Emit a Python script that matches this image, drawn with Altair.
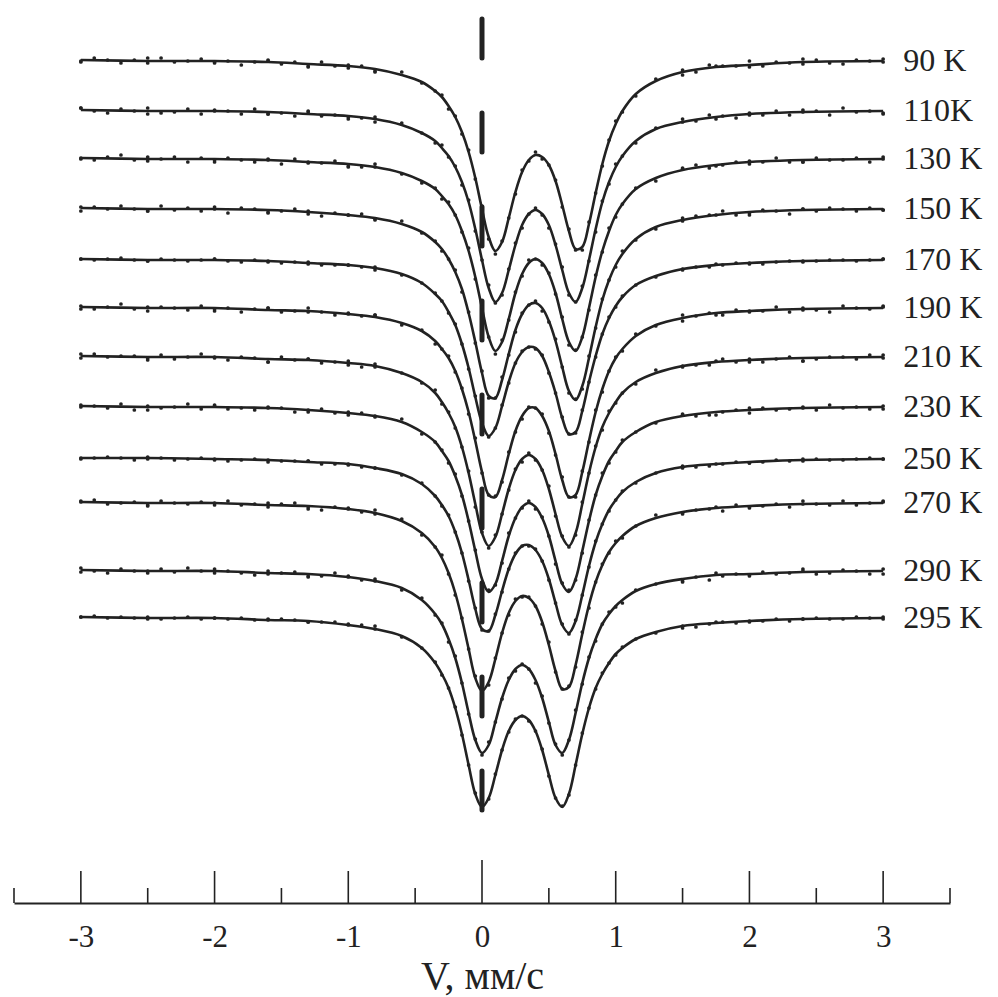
import altair as alt
import pandas as pd

# Doppler velocity grid, mm/s
velocity = [-3.0, -2.5, -2.0, -1.6, -1.3, -1.0, -0.8, -0.6, -0.45,
            -0.35, -0.3, -0.25, -0.2, -0.15, -0.1, -0.05, 0.0, 0.05, 0.1, 0.15,
            0.2, 0.25, 0.3, 0.35, 0.4, 0.45, 0.5, 0.55, 0.6, 0.65, 0.7, 0.75,
            0.8, 0.85, 0.9, 0.95, 1.0, 1.05,
            1.15, 1.3, 1.5, 1.75, 2.0, 2.4, 3.0]

temperatures = ["90 K", "110K", "130 K", "150 K", "170 K", "190 K",
                "210 K", "230 K", "250 K", "270 K", "290 K", "295 K"]

# vertical offset of each spectrum (arbitrary units, downward)
offsets = [46, 96, 144, 194, 245, 293, 342, 392, 444, 488, 556, 603]

# fitted absorption (arbitrary units) read along the velocity grid
fit_90 = [1, 2, 2, 3, 5, 7, 10, 16, 23, 32, 38, 47, 58, 73, 93, 119, 150, 178, 192, 183, 159, 133, 113, 101, 96, 98, 106, 122, 146, 172, 190, 188, 165, 134, 105, 82, 65, 52, 35, 22, 13, 8, 6, 3, 2]
fit_110 = [1, 2, 2, 3, 5, 7, 10, 16, 24, 32, 39, 47, 58, 73, 93, 120, 151, 179, 193, 184, 161, 136, 116, 105, 101, 105, 116, 136, 161, 184, 193, 179, 151, 120, 93, 73, 58, 47, 32, 20, 13, 8, 5, 3, 2]
fit_130 = [1, 2, 2, 3, 5, 7, 10, 16, 24, 32, 39, 47, 58, 74, 94, 120, 151, 180, 194, 185, 162, 136, 117, 106, 102, 106, 117, 136, 162, 185, 194, 180, 151, 120, 94, 74, 58, 47, 32, 21, 13, 8, 5, 3, 2]
fit_150 = [1, 2, 2, 3, 5, 8, 11, 17, 25, 35, 42, 52, 65, 82, 106, 135, 166, 189, 191, 173, 147, 123, 107, 98, 96, 101, 114, 134, 160, 184, 193, 179, 151, 120, 93, 73, 58, 47, 32, 20, 13, 8, 5, 3, 2]
fit_170 = [1, 2, 2, 3, 5, 7, 10, 16, 25, 36, 43, 54, 67, 86, 110, 139, 165, 178, 170, 148, 124, 105, 94, 89, 90, 98, 114, 135, 160, 176, 174, 153, 124, 98, 76, 60, 48, 39, 27, 18, 11, 7, 5, 3, 2]
fit_190 = [1, 2, 2, 4, 5, 8, 11, 17, 25, 35, 43, 52, 65, 83, 106, 135, 166, 189, 191, 174, 148, 125, 110, 102, 102, 110, 125, 148, 174, 191, 189, 166, 135, 106, 83, 65, 52, 43, 30, 19, 12, 7, 5, 3, 2]
fit_210 = [1, 2, 2, 4, 5, 8, 11, 18, 27, 38, 47, 58, 72, 92, 118, 149, 178, 191, 182, 159, 134, 115, 104, 100, 104, 115, 134, 159, 182, 191, 178, 149, 118, 92, 72, 58, 47, 38, 27, 18, 11, 7, 5, 3, 2]
fit_230 = [1, 2, 2, 3, 5, 8, 11, 17, 27, 37, 46, 56, 71, 90, 116, 146, 174, 187, 179, 156, 131, 113, 102, 98, 102, 113, 131, 156, 179, 187, 174, 146, 116, 90, 71, 56, 46, 37, 27, 17, 11, 7, 5, 3, 2]
fit_250 = [1, 1, 2, 3, 5, 7, 11, 17, 27, 39, 48, 59, 75, 96, 123, 152, 172, 174, 158, 134, 112, 97, 89, 88, 93, 104, 122, 146, 168, 176, 164, 138, 109, 85, 67, 53, 43, 35, 25, 16, 10, 7, 5, 3, 2]
fit_270 = [1, 2, 2, 4, 5, 8, 12, 20, 32, 46, 57, 72, 92, 118, 148, 177, 190, 181, 158, 132, 112, 100, 95, 97, 105, 121, 144, 170, 188, 186, 164, 133, 104, 81, 64, 51, 42, 35, 25, 17, 11, 7, 5, 3, 2]
fit_290 = [1, 2, 2, 4, 5, 8, 12, 19, 31, 45, 55, 70, 89, 114, 144, 171, 184, 176, 153, 129, 111, 100, 96, 100, 111, 129, 153, 176, 184, 171, 144, 114, 89, 70, 55, 45, 37, 31, 22, 15, 10, 6, 5, 3, 2]
fit_295 = [1, 2, 2, 4, 5, 9, 13, 20, 32, 47, 58, 72, 92, 118, 149, 178, 191, 182, 159, 134, 115, 104, 100, 104, 115, 134, 159, 182, 191, 178, 149, 118, 92, 72, 58, 47, 38, 32, 23, 16, 10, 7, 5, 3, 2]

# scatter of the measured points about the fit, on the same grid
res_90 = [2, -3, 1, -2, 3, -1, 2, -3, 1, 0, -2, 3, -1, 2, -2, 1, -3, 2, 3, -1, 0, 2, -2, 1, -3, 2, 0, -1, 2, -2, 1, 3, -2, 0, 2, -1, -3, 1, 2, -2, 3, -1, 2, -3, 1]
res_110 = [-2, 3, -1, 2, -3, 1, 3, -2, 0, 2, -3, 1, -1, 3, -2, 2, 0, -3, 1, 2, -1, -2, 3, 0, -2, 1, 3, -1, -3, 2, 0, -2, 1, 3, -1, 2, -3, 0, 2, -1, -3, 2, 1, -2, 3]
res_130 = [1, -2, 3, -1, 0, 2, -3, 1, 2, -1, 3, -2, 0, 1, -3, 2, -1, 0, 3, -2, 1, -1, 2, -3, 0, 2, -1, 1, -2, 3, -1, 0, 2, -2, 1, -3, 2, 0, -1, 3, -2, 1, -1, 2, 0]
res_150 = [-1, 2, -2, 3, -1, 0, 2, -3, 1, -1, 2, 0, -2, 3, -1, 1, -2, 2, 0, -3, 1, 2, -1, 0, -2, 3, 1, -2, 0, 2, -1, 3, -2, 1, -1, 0, 2, -3, 1, 2, -2, 0, 3, -1, 1]
res_170 = [0, 1, -1, 0, 1, 0, -1, 1, 0, -1, 0, 1, -1, 0, 1, -1, 0, 1, 0, -1, 1, 0, -1, 0, 1, -1, 1, 0, -1, 0, 1, -1, 0, 1, 0, -1, 1, -1, 0, 1, 0, -1, 1, 0, -1]
res_190 = [2, -1, 3, -2, 1, 0, -2, 2, -1, 3, 0, -2, 1, -1, 2, -3, 1, 0, -1, 2, -2, 1, 3, -1, 0, -2, 2, 1, -3, 0, 2, -1, 1, -2, 3, 0, -1, 2, -2, 1, -3, 2, 0, 1, -2]
res_210 = [-2, 1, 0, 3, -1, 2, -2, 0, 1, -3, 2, -1, 1, 0, -2, 3, -1, 2, -2, 0, 1, -1, 3, -2, 1, 0, -3, 2, -1, 1, 2, -2, 0, -1, 3, -2, 1, 0, 2, -3, 1, -1, 2, 3, -2]
res_230 = [1, 3, -2, 0, 2, -1, 1, -3, 2, 0, -1, 2, -2, 1, 0, -1, 3, -2, 1, 2, -3, 0, 1, -2, 2, -1, 0, 3, -1, -2, 1, 2, -1, 0, -3, 2, 1, -2, 0, 1, -1, 3, -2, 0, 2]
res_250 = [0, -1, 1, 0, -1, 1, 0, 1, -1, 0, 1, -1, 0, 0, 1, -1, 1, 0, -1, 1, 0, -1, 0, 1, -1, 0, 1, 0, -1, 1, -1, 0, 1, -1, 0, 1, 0, -1, 1, 0, -1, 0, 1, -1, 0]
res_270 = [-1, 2, 0, -2, 3, -1, 1, -2, 2, 0, -3, 1, 2, -1, 0, -2, 1, 3, -1, 0, 2, -2, 1, -1, 0, 2, -3, 1, 0, -1, 2, -2, 3, 0, -1, 1, -2, 2, 0, -3, 1, -1, 2, 0, -2]
res_290 = [2, 0, -2, 1, 3, -1, 0, 2, -2, 1, -1, 3, -2, 0, 1, -1, 2, -3, 0, 1, -2, 2, -1, 0, 3, -2, 1, -1, 2, 0, -3, 1, -1, 2, 0, -2, 1, 3, -1, 0, 2, -2, 1, -1, 3]
res_295 = [0, 1, 0, -1, 1, -1, 0, 1, 0, -1, 1, 0, -1, 1, 0, -1, 0, 1, -1, 0, 1, -1, 0, 1, 0, -1, 1, 0, -1, 1, 0, -1, 0, 1, -1, 0, 1, -1, 0, 1, 0, -1, 1, 0, -1]

# extra measured points in the flat wings
wing_v = [-3.0, -2.9, -2.8, -2.7, -2.6, -2.5, -2.4, -2.3, -2.2, -2.1, -2.0,
          -1.9, -1.8, -1.7, -1.6, -1.5, -1.4, -1.3, -1.2, -1.1, -1.0, -0.9, -0.8,
          1.5, 1.6, 1.7, 1.8, 1.9, 2.0, 2.1, 2.2, 2.3, 2.4, 2.5, 2.6, 2.7, 2.8, 2.9, 3.0]
wing_profile = [1, 1, 1, 1, 2, 2, 2, 2, 2, 2, 2, 3, 3, 3, 4, 4, 4, 5, 6, 7, 8, 9, 11,
                12, 10, 8, 7, 6, 5, 5, 4, 4, 3, 3, 3, 2, 2, 2, 2]
wres_90 = [1, -2, 0, 3, -1, 2, -3, 1, 0, -2, 2, -1, 3, 0, -2, 1, -1, 2, -3, 0, 1, -2, 2, -1, 3, -2, 0, 1, -3, 2, -1, 0, 2, -2, 1, 3, -1, 0, -2]
wres_110 = [-2, 1, 3, -1, 0, -3, 2, 1, -2, 3, 0, -1, 2, -3, 1, 0, 3, -2, 1, -1, 2, 0, -3, 1, 2, -2, 0, 3, -1, 1, -2, 2, 0, -1, 3, -3, 1, 0, 2]
wres_130 = [0, 2, -1, -3, 1, 2, 0, -2, 3, -1, 1, -2, 0, 2, -1, 3, -2, 1, 0, -3, 2, 1, -1, 0, -2, 3, 1, -1, 2, 0, -3, 1, 2, -2, 0, 1, -1, 3, -2]
wres_150 = [3, -1, 1, -2, 0, 2, -3, 1, -1, 2, 0, 3, -2, -1, 1, 0, -2, 2, 3, -1, 0, -2, 1, 2, -1, 0, -3, 2, 1, -2, 0, 3, -1, 1, -2, 0, 2, -1, 1]
wres_170 = [0, 1, 0, -1, 0, 1, -1, 0, 1, 0, -1, 0, 1, -1, 0, 1, 0, -1, 1, 0, -1, 0, 1, 0, -1, 1, 0, -1, 0, 1, 0, -1, 1, 0, -1, 0, 1, 0, -1]
wres_190 = [-1, 2, 0, -3, 1, 3, -1, 0, 2, -2, 1, -1, 3, 0, -2, 2, 1, -3, 0, 2, -1, 1, -2, 3, 0, -1, 2, -2, 1, 0, -3, 2, -1, 1, 3, -2, 0, 1, -1]
wres_210 = [2, -2, 1, 0, -1, 3, -2, 2, 0, -3, 1, 2, -1, 0, 3, -2, 1, -1, 2, 0, -2, 3, 1, -1, 0, 2, -3, 1, -1, 2, 0, -2, 3, 1, -1, 0, 2, -2, 1]
wres_230 = [-1, 0, 2, -2, 3, -1, 1, 0, -3, 2, -1, 1, 0, 2, -2, -1, 3, 0, -2, 1, 2, -1, 0, -3, 1, 2, 0, -1, 3, -2, 1, 0, -1, 2, -3, 1, 0, 2, -1]
wres_250 = [1, 0, -1, 0, 1, 0, -1, 1, 0, -1, 0, 1, 0, -1, 1, 0, 0, -1, 1, 0, -1, 1, 0, -1, 0, 1, 0, -1, 1, 0, -1, 0, 1, -1, 0, 1, 0, -1, 0]
wres_270 = [0, -2, 2, 1, -1, 3, -2, 0, 1, -1, 2, -3, 1, 0, 2, -1, -2, 1, 3, -1, 0, 2, -2, 1, -1, 0, 3, -2, 1, 0, -1, 2, -3, 0, 1, -2, 2, 0, -1]
wres_290 = [-2, 1, 3, -1, 0, 2, -2, 1, -3, 0, 2, -1, 1, 3, -2, 0, -1, 2, 1, -3, 0, 2, -1, 1, -2, 3, 0, -1, 2, -2, 1, 0, -3, 2, 1, -1, 0, 3, -2]
wres_295 = [0, -1, 1, 0, 0, -1, 1, 0, -1, 1, 0, 0, -1, 1, 0, -1, 0, 1, 0, -1, 1, 0, -1, 0, 1, 0, -1, 1, 0, 0, -1, 1, 0, -1, 0, 1, -1, 0, 1]

fits = [fit_90, fit_110, fit_130, fit_150, fit_170, fit_190,
        fit_210, fit_230, fit_250, fit_270, fit_290, fit_295]
residuals = [res_90, res_110, res_130, res_150, res_170, res_190,
             res_210, res_230, res_250, res_270, res_290, res_295]
wing_residuals = [wres_90, wres_110, wres_130, wres_150, wres_170, wres_190,
                  wres_210, wres_230, wres_250, wres_270, wres_290, wres_295]

# axis ticks (mm/s)
tick_labels = [-3, -2, -1, 0, 1, 2, 3]
major_ticks = [-3, -2, -1, 1, 2, 3]
minor_ticks = [-3.5, -2.5, -1.5, -0.5, 0.5, 1.5, 2.5, 3.5]
zero_tick = [0]

# ---------------------------------------------------------------- tables
fit_rows, dot_rows = [], []
for t, off, fit, res, wres in zip(temperatures, offsets, fits, residuals, wing_residuals):
    assert len(fit) == len(velocity) and len(res) == len(velocity), t
    assert len(wres) == len(wing_v), t
    for v, f, r in zip(velocity, fit, res):
        fit_rows.append({"T": t, "v": v, "y": off + f})
        dot_rows.append({"T": t, "v": v, "y": off + f + r})
    for v, p, r in zip(wing_v, wing_profile, wres):
        dot_rows.append({"T": t, "v": v, "y": off + p + r})
fit_df = pd.DataFrame(fit_rows)
dot_df = pd.DataFrame(dot_rows)

labels_df = pd.DataFrame({
    "T": temperatures,
    "v": [3.15] * len(temperatures),
    "y": [off + fit[-1] for off, fit in zip(offsets, fits)],
})

AXIS_Y = 890
tick_rows = ([{"v": v, "y0": AXIS_Y, "y1": AXIS_Y - 32} for v in major_ticks]
             + [{"v": v, "y0": AXIS_Y, "y1": AXIS_Y - 15} for v in minor_ticks]
             + [{"v": v, "y0": AXIS_Y, "y1": AXIS_Y - 43} for v in zero_tick])
ticks_df = pd.DataFrame(tick_rows)

dash_df = pd.DataFrame({"v": [0.0], "top": [6], "bottom": [799]})

FONT = "Liberation Serif"
INK = "#222222"

xscale = alt.Scale(domain=[-3.5, 3.5], nice=False, zero=False)
yscale = alt.Scale(domain=[0, AXIS_Y], reverse=True, nice=False, zero=False)

x_axis = alt.Axis(values=tick_labels, ticks=False, grid=False,
                  domainColor=INK, domainWidth=2,
                  labelFont=FONT, labelFontSize=31, labelColor=INK,
                  labelPadding=19, labelExpr="'' + datum.value",
                  title="V, мм/с", titleFont=FONT, titleFontSize=40,
                  titleFontWeight="normal", titleColor=INK, titlePadding=4)

X = alt.X("v:Q", scale=xscale, axis=x_axis, title="V, мм/с")

dash = alt.Chart(dash_df).mark_rule(
    strokeDash=[39, 55], strokeWidth=5, strokeCap="round", color=INK
).encode(
    x=X,
    y=alt.Y("top:Q", scale=yscale, axis=None),
    y2="bottom:Q",
)

lines = alt.Chart(fit_df).mark_line(interpolate="catmull-rom", strokeWidth=2.6, color=INK).encode(
    x=X,
    y=alt.Y("y:Q", scale=yscale, axis=None),
    detail="T:N",
    order="v:Q",
)

dots = alt.Chart(dot_df).mark_circle(size=14, color=INK, opacity=1).encode(
    x=X,
    y=alt.Y("y:Q", scale=yscale, axis=None),
)

ticks = alt.Chart(ticks_df).mark_rule(strokeWidth=1.6, color=INK).encode(
    x=X,
    y=alt.Y("y0:Q", scale=yscale, axis=None),
    y2="y1:Q",
)

labels = alt.Chart(labels_df).mark_text(
    align="left", baseline="middle", font=FONT, fontSize=32, color=INK
).encode(
    x=X,
    y=alt.Y("y:Q", scale=yscale, axis=None),
    text="T:N",
)

chart = alt.layer(dash, lines, dots, ticks, labels).properties(
    width=936, height=890, background="white"
).configure_view(stroke=None)

chart.save("out.html", embed_options={"renderer": "svg", "actions": False})
